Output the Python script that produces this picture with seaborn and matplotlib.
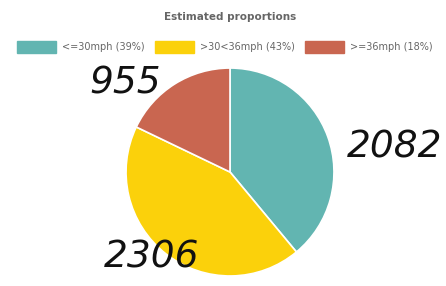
import matplotlib
matplotlib.use("Agg")
import matplotlib.pyplot as plt
from matplotlib.patches import Patch
import seaborn as sns

categories = ["<=30mph", ">30<36mph", ">=36mph"]
counts = [2082, 2306, 955]
percent_labels = ["39%", "43%", "18%"]
colors = ["#62b5b1", "#fbd10b", "#c96650"]
annotations = ["2082", "2306", "955"]

sns.set_theme(style="white")
plt.rcParams['font.family'] = ['DejaVu Sans']

W, H = 446, 286
fig = plt.figure(figsize=(W / 100, H / 100), dpi=100)
fig.patch.set_facecolor("white")

cx, cy, r = 230, 172, 105
ax = fig.add_axes([(cx - r) / W, (H - cy - r) / H, 2 * r / W, 2 * r / H])
ax.pie(counts, colors=colors, startangle=90, counterclock=False,
       radius=1.0, wedgeprops=dict(edgecolor="white", linewidth=1.2))
ax.set_xlim(-1.01, 1.01)
ax.set_ylim(-1.01, 1.01)
ax.set_aspect("equal")
ax.axis("off")

fig.text(230 / W, 1 - 17 / H, "Estimated proportions", ha="center", va="center",
         fontsize=7.5, color="#666666", fontweight="bold")

handles = [Patch(facecolor=c, edgecolor=c) for c in colors]
labels = [f"{c} ({p})" for c, p in zip(categories, percent_labels)]
leg = fig.legend(handles, labels, loc="center", ncol=3,
                 bbox_to_anchor=(225 / W, 1 - 47 / H), frameon=False,
                 fontsize=7, handlelength=4.0, handleheight=1.5,
                 handletextpad=0.6, columnspacing=1.1)
for t in leg.get_texts():
    t.set_color("#666666")

# handwritten annotations (positions in pixels)
pos = [(395, 148), (152, 258), (125, 83)]
for txt, (px, py) in zip(annotations, pos):
    fig.text(px / W, 1 - py / H, txt, ha="center", va="center",
             fontsize=27, color="#111111", fontstyle="italic")

fig.savefig("out.png", dpi=100, facecolor="white")
